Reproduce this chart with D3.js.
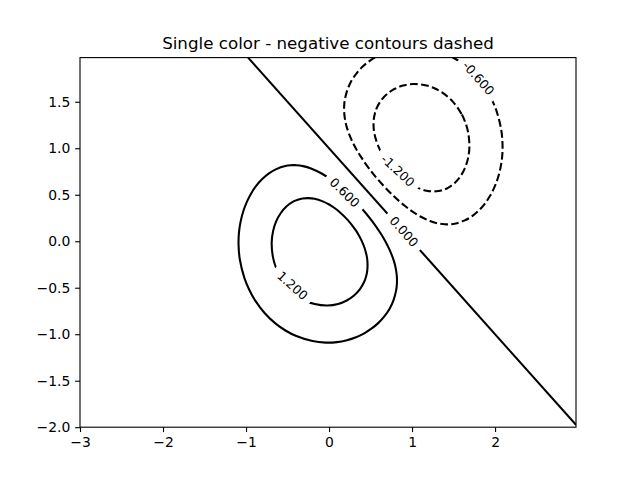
<!DOCTYPE html>
<html>
<head>
<meta charset="utf-8">
<script src="https://cdn.jsdelivr.net/npm/d3@7"></script>
<style>
  body { margin: 0; background: #fff; }
  svg { display: block; font-family: "DejaVu Sans", sans-serif; }
</style>
</head>
<body>
<svg id="chart" width="640" height="480"></svg>
<script>
// ---- data ----
const titleText = "Single color - negative contours dashed";
const xDomain = [-3, 2.975];
const yDomain = [-2, 1.975];
const xTicks = [-3, -2, -1, 0, 1, 2];
const yTicks = [-2.0, -1.5, -1.0, -0.5, 0.0, 0.5, 1.0, 1.5];

const contourLevels = [-1.2, -0.6, 0.0, 0.6, 1.2];

// level 0.6 (closed loop)
const loopPos06 = [
  [-0.774,-0.774],[-0.639,-0.889],[-0.525,-0.960],[-0.394,-1.020],[-0.199,-1.074],[-0.041,-1.090],
  [0.095,-1.085],[0.216,-1.064],[0.325,-1.032],[0.424,-0.990],[0.514,-0.938],[0.595,-0.878],
  [0.666,-0.808],[0.728,-0.728],[0.776,-0.635],[0.809,-0.526],[0.817,-0.464],[0.818,-0.394],
  [0.808,-0.313],[0.783,-0.217],[0.731,-0.095],[0.676,0.003],[0.619,0.088],[0.517,0.219],
  [0.374,0.374],[0.219,0.517],[0.088,0.619],[0.003,0.676],[-0.095,0.731],[-0.217,0.783],
  [-0.313,0.808],[-0.394,0.818],[-0.464,0.817],[-0.526,0.809],[-0.635,0.776],[-0.728,0.728],
  [-0.808,0.666],[-0.878,0.595],[-0.938,0.514],[-0.990,0.424],[-1.032,0.325],[-1.064,0.216],
  [-1.085,0.095],[-1.090,-0.041],[-1.074,-0.199],[-1.020,-0.394],[-0.960,-0.525],[-0.889,-0.639]
];
// level 1.2 (closed loop)
const loopPos12 = [
  [-0.496,-0.496],[-0.362,-0.600],[-0.277,-0.642],[-0.174,-0.675],[-0.016,-0.691],[0.109,-0.674],
  [0.213,-0.637],[0.301,-0.583],[0.373,-0.514],[0.428,-0.428],[0.447,-0.376],[0.460,-0.318],
  [0.464,-0.252],[0.457,-0.174],[0.429,-0.076],[0.395,0.001],[0.355,0.070],[0.323,0.116],
  [0.227,0.227],[0.116,0.323],[0.070,0.355],[0.001,0.395],[-0.076,0.429],[-0.174,0.457],
  [-0.252,0.464],[-0.318,0.460],[-0.376,0.447],[-0.428,0.428],[-0.514,0.373],[-0.583,0.301],
  [-0.637,0.213],[-0.674,0.109],[-0.691,-0.016],[-0.675,-0.174],[-0.642,-0.277],[-0.600,-0.362]
];
// level -0.6 (closed loop, runs past the top of the grid)
const loopNeg06 = [
  [1.774,1.774],[1.889,1.639],[1.960,1.525],[2.020,1.394],[2.074,1.199],[2.090,1.041],
  [2.085,0.905],[2.064,0.784],[2.032,0.675],[1.990,0.576],[1.938,0.486],[1.878,0.405],
  [1.808,0.334],[1.728,0.272],[1.635,0.224],[1.526,0.191],[1.464,0.183],[1.394,0.182],
  [1.313,0.192],[1.217,0.217],[1.095,0.269],[0.997,0.324],[0.912,0.381],[0.781,0.483],
  [0.626,0.626],[0.483,0.781],[0.381,0.912],[0.324,0.997],[0.269,1.095],[0.217,1.217],
  [0.192,1.313],[0.182,1.394],[0.183,1.464],[0.191,1.526],[0.224,1.635],[0.272,1.728],
  [0.334,1.808],[0.405,1.878],[0.486,1.938],[0.576,1.990],[0.675,2.032],[0.784,2.064],
  [0.905,2.085],[1.041,2.090],[1.199,2.074],[1.394,2.020],[1.525,1.960],[1.639,1.889]
];
// level -1.2 (closed loop)
const loopNeg12 = [
  [1.496,1.496],[1.600,1.362],[1.642,1.277],[1.675,1.174],[1.691,1.016],[1.674,0.891],
  [1.637,0.787],[1.583,0.699],[1.514,0.627],[1.428,0.572],[1.376,0.553],[1.318,0.540],
  [1.252,0.536],[1.174,0.543],[1.076,0.571],[0.999,0.605],[0.930,0.645],[0.884,0.677],
  [0.773,0.773],[0.677,0.884],[0.645,0.930],[0.605,0.999],[0.571,1.076],[0.543,1.174],
  [0.536,1.252],[0.540,1.318],[0.553,1.376],[0.572,1.428],[0.627,1.514],[0.699,1.583],
  [0.787,1.637],[0.891,1.674],[1.016,1.691],[1.174,1.675],[1.277,1.642],[1.362,1.600]
];
// level 0.0 (straight open line)
const lineZero = [[-0.975,1.975],[2.975,-1.975]];

// inline contour labels: text, position (data), tangent direction (data)
const labelTexts = ["0.600", "1.200", "0.000", "-1.200", "-0.600"];
const labelX     = [0.19, -0.44, 0.903, 0.83, 1.80];
const labelY     = [0.524, -0.476, 0.105, 0.76, 1.755];
const labelDX    = [0.437, 0.47, 1, 0.518, 1];
const labelDY    = [-0.376, -0.376, -1, -0.43, -1];

// ---- drawing ----
const svg = d3.select("#chart");
const W = 640, H = 480;
const m = { left: 80, right: 576, top: 57.6, bottom: 427.2 };

const x = d3.scaleLinear().domain(xDomain).range([m.left, m.right]);
const y = d3.scaleLinear().domain(yDomain).range([m.bottom, m.top]);

svg.append("rect").attr("width", W).attr("height", H).attr("fill", "#fff");

svg.append("defs").append("clipPath").attr("id", "clip")
  .append("rect")
  .attr("x", m.left).attr("y", m.top)
  .attr("width", m.right - m.left).attr("height", m.bottom - m.top);

const plot = svg.append("g").attr("clip-path", "url(#clip)");

const lw = 2.08;
const closed = d3.line().x(d => x(d[0])).y(d => y(d[1])).curve(d3.curveCatmullRomClosed.alpha(0.5));
const open = d3.line().x(d => x(d[0])).y(d => y(d[1]));

const contours = [
  { level: 1.2, pts: loopPos12, closed: true },
  { level: 0.6, pts: loopPos06, closed: true },
  { level: 0.0, pts: lineZero, closed: false },
  { level: -0.6, pts: loopNeg06, closed: true },
  { level: -1.2, pts: loopNeg12, closed: true }
];

plot.selectAll("path.contour").data(contours).join("path")
  .attr("class", "contour")
  .attr("d", d => d.closed ? closed(d.pts) : open(d.pts))
  .attr("fill", "none")
  .attr("stroke", "#000")
  .attr("stroke-width", lw)
  .attr("stroke-dasharray", d => d.level < 0 ? "7.7,3.33" : null);

// labels with gaps
const labels = labelTexts.map((t, i) => {
  const px = x(labelX[i]), py = y(labelY[i]);
  const vx = x(labelX[i] + labelDX[i]) - x(labelX[i]);
  const vy = y(labelY[i] + labelDY[i]) - y(labelY[i]);
  let ang = Math.atan2(vy, vx) * 180 / Math.PI;
  if (ang > 90) ang -= 180;
  if (ang < -90) ang += 180;
  return { t, px, py, ang };
});

const lg = plot.selectAll("g.lab").data(labels).join("g")
  .attr("class", "lab")
  .attr("transform", d => `translate(${d.px},${d.py}) rotate(${d.ang})`);

const bg = lg.append("rect").attr("fill", "#fff");
const txt = lg.append("text")
  .attr("text-anchor", "middle")
  .attr("dominant-baseline", "central")
  .attr("font-size", "12.5px")
  .attr("fill", "#000")
  .text(d => d.t);
txt.each(function (d) { d.w = this.getComputedTextLength(); });
bg.attr("x", d => -d.w / 2 - 6.5).attr("y", -6).attr("width", d => d.w + 13).attr("height", 12);

// axes
const xAxis = d3.axisBottom(x).tickValues(xTicks).tickSizeOuter(0).tickSize(4.86).tickPadding(4.86)
  .tickFormat(d => d3.format("d")(d).replace("-", "\u2212"));
const yAxis = d3.axisLeft(y).tickValues(yTicks).tickSizeOuter(0).tickSize(4.86).tickPadding(4.86)
  .tickFormat(d => d3.format(".1f")(d).replace("-", "\u2212"));

const gx = svg.append("g").attr("transform", `translate(0,${m.bottom})`).call(xAxis);
const gy = svg.append("g").attr("transform", `translate(${m.left},0)`).call(yAxis);
[gx, gy].forEach(g => {
  g.select(".domain").remove();
  g.selectAll(".tick line").attr("stroke", "#000").attr("stroke-width", 1.11);
  g.selectAll(".tick text").attr("fill", "#000").attr("font-size", "13.9px")
    .attr("font-family", "DejaVu Sans, sans-serif");
});

// spines
svg.append("rect")
  .attr("x", m.left).attr("y", m.top)
  .attr("width", m.right - m.left).attr("height", m.bottom - m.top)
  .attr("fill", "none").attr("stroke", "#000").attr("stroke-width", 1.11);

// title
svg.append("text")
  .attr("x", (m.left + m.right) / 2).attr("y", m.top - 8.3)
  .attr("text-anchor", "middle")
  .attr("font-size", "16.7px")
  .attr("fill", "#000")
  .text(titleText);
</script>
</body>
</html>
